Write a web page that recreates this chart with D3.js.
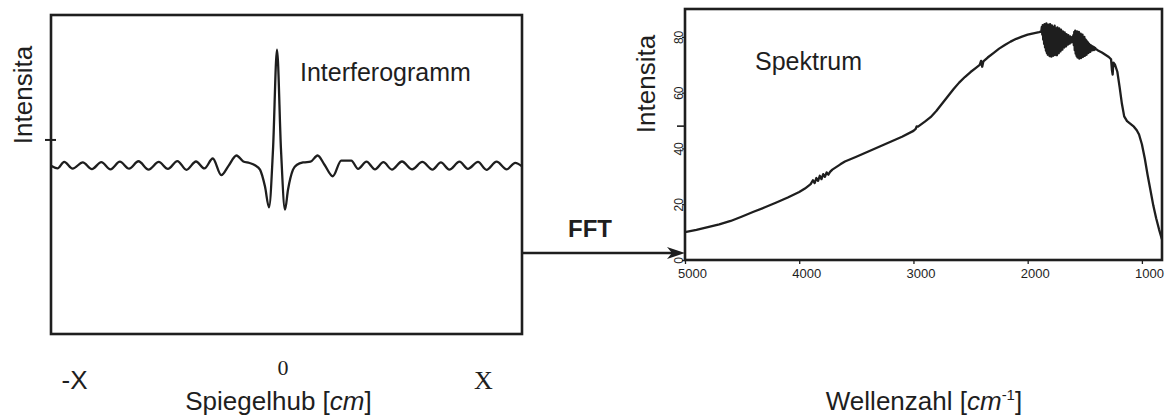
<!DOCTYPE html>
<html>
<head>
<meta charset="utf-8">
<script src="https://cdn.jsdelivr.net/npm/d3@7"></script>
<style>
  html, body { margin: 0; padding: 0; background: #fff; }
  svg { display: block; }
  text { fill: #1e1e1e; }
</style>
</head>
<body>
<svg id="chart" width="1168" height="416"></svg>
<script>
// ---------------- DATA ----------------
// Interferogram: mirror displacement (arbitrary units) and intensity (arbitrary units)
const interfX = [-235.5, -229, -222.3, -213.9, -203.7, -194.6, -185.2, -176.0, -166.6, -157.4,
  -148.0, -137.9, -127.7, -118.6, -109.1, -100.0, -90.5, -82.1, -73.7, -65.2,
  -58, -50.0, -43.2, -37, -31.5, -26.5, -21.5, -17.5, -13.5, -9.5,
  -5.5, -1.5, 1.5, 6.5, 10.5, 17, 24, 31.1, 38, 46.3,
  54.7, 64.8, 71.6, 80, 88.5, 96.9, 105.4, 115.5, 125.7, 135.8,
  146, 154.4, 162.8, 173, 181.4, 191.5, 200, 210.1, 220.2, 228.7, 235.5];
const interfY = [0, -2.2, 3.4, -2.4, 3.0, -2.8, 3.2, -3.0, 3.6, -2.4,
  4.0, -3.2, 3.4, -2.6, 4.2, -3.4, 3.8, -2.2, 6.4, -8.0,
  0, 9.0, 3.8, 2.5, 0.5, -3.3, -18, -36, 14, 101,
  14, -38, -20.7, -3.3, 1, 3.0, 3.6, 9.0, 1, -9.0,
  4.6, 4.6, -2.6, 3.6, -3.0, 3.2, -3.2, 3.8, -3.0, 3.4,
  -3.2, 3.0, -3.2, 3.6, -2.6, 3.4, -3.4, 3.6, -3.0, 2.6, -0.5];
const interfTickPos = [-212, -3.5, 197];
const interfTickLabels = ["-X", "0", "X"];

// Spectrum: wavenumber (cm^-1) and intensity
// smooth rise up to the maximum
const specWaveA = [5000, 4900, 4800, 4700, 4600, 4500, 4400, 4300, 4200, 4100,
  4000, 3950, 3900, 3880, 3865, 3850, 3835, 3820, 3805, 3790,
  3775, 3760, 3745, 3730, 3710, 3680, 3640, 3600, 3500, 3400,
  3300, 3200, 3100, 3000, 2980, 2972, 2960, 2900, 2850, 2800,
  2750, 2700, 2650, 2600, 2550, 2500, 2450, 2420, 2408, 2398,
  2388, 2350, 2300, 2250, 2200, 2150, 2100, 2050, 2000, 1950,
  1900, 1884];
const specIntA = [10.0, 10.8, 11.8, 12.8, 14.0, 15.6, 17.3, 18.9, 20.6, 22.4,
  24.4, 25.6, 27.2, 28.6, 27.6, 29.4, 28.4, 30.2, 29.0, 30.8,
  29.8, 31.4, 30.6, 31.6, 32.4, 33.2, 34.3, 35.3, 37.0, 38.8,
  40.6, 42.4, 44.2, 46.3, 47.0, 47.9, 47.8, 49.6, 51.2, 53.4,
  56.0, 58.6, 61.2, 63.6, 65.6, 67.4, 69.0, 70.0, 71.4, 69.3,
  71.2, 72.6, 74.2, 75.8, 77.1, 78.3, 79.3, 80.1, 80.8, 81.3,
  81.7, 81.9];
// first water-vapour band
const specWaveB = [1880, 1876, 1872, 1868, 1864, 1860, 1856, 1852, 1848, 1844,
  1840, 1836, 1832, 1828, 1824, 1820, 1816, 1812, 1808, 1804,
  1800, 1796, 1792, 1788, 1784, 1780, 1776, 1772, 1768, 1764,
  1760, 1756, 1752, 1748, 1744, 1740, 1736, 1732, 1728, 1724,
  1720, 1716, 1712, 1708, 1704, 1700, 1696, 1692, 1688, 1684,
  1680, 1676, 1672, 1668, 1664, 1660, 1656, 1652, 1648, 1644,
  1640, 1636, 1632, 1628, 1624, 1620, 1616, 1612, 1608, 1604];
const specIntB = [82.2, 83.6, 80.8, 84.2, 79.0, 83.8, 77.5, 84.6, 76.2, 84.0,
  75.0, 84.8, 74.2, 83.5, 73.6, 84.4, 74.8, 83.9, 73.1, 84.6,
  73.8, 83.2, 72.9, 84.1, 74.4, 83.6, 73.2, 82.8, 74.0, 84.0,
  73.5, 83.1, 74.6, 82.5, 73.4, 83.4, 75.2, 82.2, 74.1, 83.0,
  75.6, 81.8, 74.8, 82.6, 76.0, 81.4, 75.4, 82.0, 76.8, 81.2,
  76.2, 81.6, 77.4, 80.8, 76.6, 81.0, 77.8, 80.4, 77.2, 80.6,
  78.2, 80.0, 77.6, 80.2, 78.4, 79.8, 78.0, 79.9, 78.8, 79.4];
// second water-vapour band
const specWaveC = [1600, 1596, 1592, 1588, 1584, 1580, 1576, 1572, 1568, 1564,
  1560, 1556, 1552, 1548, 1544, 1540, 1536, 1532, 1528, 1524,
  1520, 1516, 1512, 1508, 1504, 1500, 1496, 1492, 1488, 1484,
  1480, 1476, 1472, 1468, 1464, 1460, 1456, 1452, 1448, 1444,
  1440, 1436, 1432, 1428, 1424, 1420, 1416, 1412, 1408, 1404, 1400];
const specIntC = [80.6, 77.0, 81.8, 75.2, 82.2, 74.0, 81.6, 73.2, 82.0, 72.6,
  81.2, 73.4, 81.8, 72.2, 80.6, 73.0, 81.2, 72.4, 80.2, 73.6,
  80.8, 72.8, 79.6, 73.8, 80.0, 73.2, 79.2, 74.4, 78.8, 73.6,
  78.4, 74.8, 78.0, 74.2, 77.6, 75.0, 77.2, 74.6, 77.0, 75.4,
  76.8, 75.2, 76.6, 75.6, 76.4, 75.3, 76.2, 75.6, 76.0, 75.5, 75.6];
// shoulder and fall-off
const specWaveD = [1380, 1350, 1320, 1290, 1270, 1262, 1256, 1250, 1235, 1215,
  1195, 1175, 1155, 1130, 1100, 1070, 1045, 1025, 1000, 975,
  950, 925, 900, 875, 850, 825];
const specIntD = [75.0, 74.4, 73.6, 72.8, 72.0, 68.0, 66.5, 70.8, 70.0, 67.5,
  62.0, 56.0, 51.5, 49.8, 48.8, 47.8, 46.5, 45.0, 41.5, 36.5,
  30.5, 25.0, 19.5, 15.0, 11.0, 7.5];

const specXTicks = [5000, 4000, 3000, 2000, 1000];
const specYTicks = [0, 20, 40, 60, 80];
const specExtraTick = [48];

// ---------------- DRAW ----------------
const svg = d3.select("#chart");
const ink = "#1e1e1e";
const sans = "'Liberation Sans', Arial, sans-serif";
const serif = "'Liberation Serif', 'Times New Roman', serif";

// ---- Left panel: interferogram ----
const xL = d3.scaleLinear().domain([-235.5, 235.5]).range([51, 522]);
const yL = d3.scaleLinear().domain([-146, 131]).range([334, 15]);

const left = svg.append("g");
left.append("rect")
  .attr("x", xL.range()[0]).attr("y", yL.range()[1])
  .attr("width", xL.range()[1] - xL.range()[0])
  .attr("height", yL.range()[0] - yL.range()[1])
  .attr("fill", "none").attr("stroke", ink).attr("stroke-width", 2.6);

// small stray tick on the left frame
left.append("line")
  .attr("x1", xL.range()[0] - 6).attr("x2", xL.range()[0] + 5)
  .attr("y1", yL(22.5)).attr("y2", yL(22.5))
  .attr("stroke", ink).attr("stroke-width", 2);

const interfData = interfX.map((x, i) => [x, interfY[i]]);
left.append("path")
  .datum(interfData)
  .attr("fill", "none").attr("stroke", ink).attr("stroke-width", 2.3)
  .attr("stroke-linejoin", "round")
  .attr("d", d3.line().x(d => xL(d[0])).y(d => yL(d[1])).curve(d3.curveMonotoneX));

left.append("text")
  .attr("x", 300).attr("y", 81)
  .attr("font-family", sans).attr("font-size", 25)
  .text("Interferogramm");

left.append("text")
  .attr("transform", "translate(32,95) rotate(-90)")
  .attr("text-anchor", "middle")
  .attr("font-family", sans).attr("font-size", 26)
  .text("Intensita");

left.selectAll(".xlab")
  .data(interfTickPos)
  .join("text")
  .attr("class", "xlab")
  .attr("x", d => xL(d))
  .attr("y", (d, i) => i === 1 ? 375 : 389)
  .attr("text-anchor", "middle")
  .attr("font-family", (d, i) => i === 0 ? sans : serif)
  .attr("font-size", (d, i) => i === 1 ? 22 : 26)
  .text((d, i) => interfTickLabels[i]);

const xt = left.append("text")
  .attr("x", xL(-8)).attr("y", 410)
  .attr("text-anchor", "middle")
  .attr("font-family", sans).attr("font-size", 26);
xt.append("tspan").text("Spiegelhub [");
xt.append("tspan").attr("font-style", "italic").text("cm");
xt.append("tspan").text("]");

// ---- Right panel: spectrum ----
const xR = d3.scaleLinear().domain([5000, 824]).range([685, 1162]);
const yR = d3.scaleLinear().domain([0, 90]).range([260, 9]);

const right = svg.append("g");

const xAxis = right.append("g")
  .attr("transform", `translate(0,${yR(0)})`)
  .call(d3.axisBottom(xR).tickValues(specXTicks).tickSize(4).tickFormat(d3.format("d")));
xAxis.select(".domain").remove();
xAxis.selectAll("line").attr("stroke", ink).attr("stroke-width", 1.3);
xAxis.selectAll("text")
  .attr("font-family", sans).attr("font-size", 13)
  .attr("fill", "#333").attr("dy", null).attr("y", 18).attr("dx", 7);

const yAxis = right.append("g")
  .attr("transform", `translate(${xR(5000)},0)`)
  .call(d3.axisLeft(yR).tickValues(specYTicks).tickSize(3));
yAxis.select(".domain").remove();
yAxis.selectAll("line").attr("stroke", ink).attr("stroke-width", 1.3);
yAxis.selectAll("text")
  .attr("font-family", sans).attr("font-size", 12)
  .attr("fill", "#333")
  .attr("x", null).attr("dy", null)
  .attr("text-anchor", "middle")
  .attr("transform", "translate(-2,0) rotate(-90)");

right.selectAll(".extra")
  .data(specExtraTick)
  .join("line")
  .attr("class", "extra")
  .attr("x1", xR(5000) - 8).attr("x2", xR(5000))
  .attr("y1", d => yR(d)).attr("y2", d => yR(d))
  .attr("stroke", ink).attr("stroke-width", 1.6);

right.append("rect")
  .attr("x", xR.range()[0]).attr("y", yR.range()[1])
  .attr("width", xR.range()[1] - xR.range()[0])
  .attr("height", yR.range()[0] - yR.range()[1])
  .attr("fill", "none").attr("stroke", ink).attr("stroke-width", 2.6);

const specWave = specWaveA.concat(specWaveB, specWaveC, specWaveD);
const specInt = specIntA.concat(specIntB, specIntC, specIntD);
const specData = specWave.map((w, i) => [w, specInt[i]]);
right.append("path")
  .datum(specData)
  .attr("fill", "none").attr("stroke", ink).attr("stroke-width", 2.3)
  .attr("stroke-linejoin", "round")
  .attr("d", d3.line().x(d => xR(d[0])).y(d => yR(d[1])));

right.append("text")
  .attr("x", 755).attr("y", 70)
  .attr("font-family", sans).attr("font-size", 25)
  .text("Spektrum");

right.append("text")
  .attr("transform", "translate(655,84) rotate(-90)")
  .attr("text-anchor", "middle")
  .attr("font-family", sans).attr("font-size", 26)
  .text("Intensita");

const wt = right.append("text")
  .attr("x", 924).attr("y", 410)
  .attr("text-anchor", "middle")
  .attr("font-family", sans).attr("font-size", 26);
wt.append("tspan").text("Wellenzahl [");
wt.append("tspan").attr("font-style", "italic").text("cm");
wt.append("tspan").attr("font-size", 15).attr("dy", -10).text("-1");
wt.append("tspan").attr("dy", 10).text("]");

// ---- FFT arrow ----
const ay = 253;
const ax0 = xL.range()[1], ax1 = xR.range()[0];
svg.append("line")
  .attr("x1", ax0).attr("x2", ax1 - 12)
  .attr("y1", ay).attr("y2", ay)
  .attr("stroke", ink).attr("stroke-width", 2.4);
svg.append("path")
  .attr("d", `M${ax1},${ay} L${ax1 - 18},${ay - 6} L${ax1 - 13},${ay} L${ax1 - 18},${ay + 6} Z`)
  .attr("fill", ink);
svg.append("text")
  .attr("x", 590).attr("y", 237)
  .attr("text-anchor", "middle")
  .attr("font-family", sans).attr("font-size", 24).attr("font-weight", "bold")
  .text("FFT");
</script>
</body>
</html>
